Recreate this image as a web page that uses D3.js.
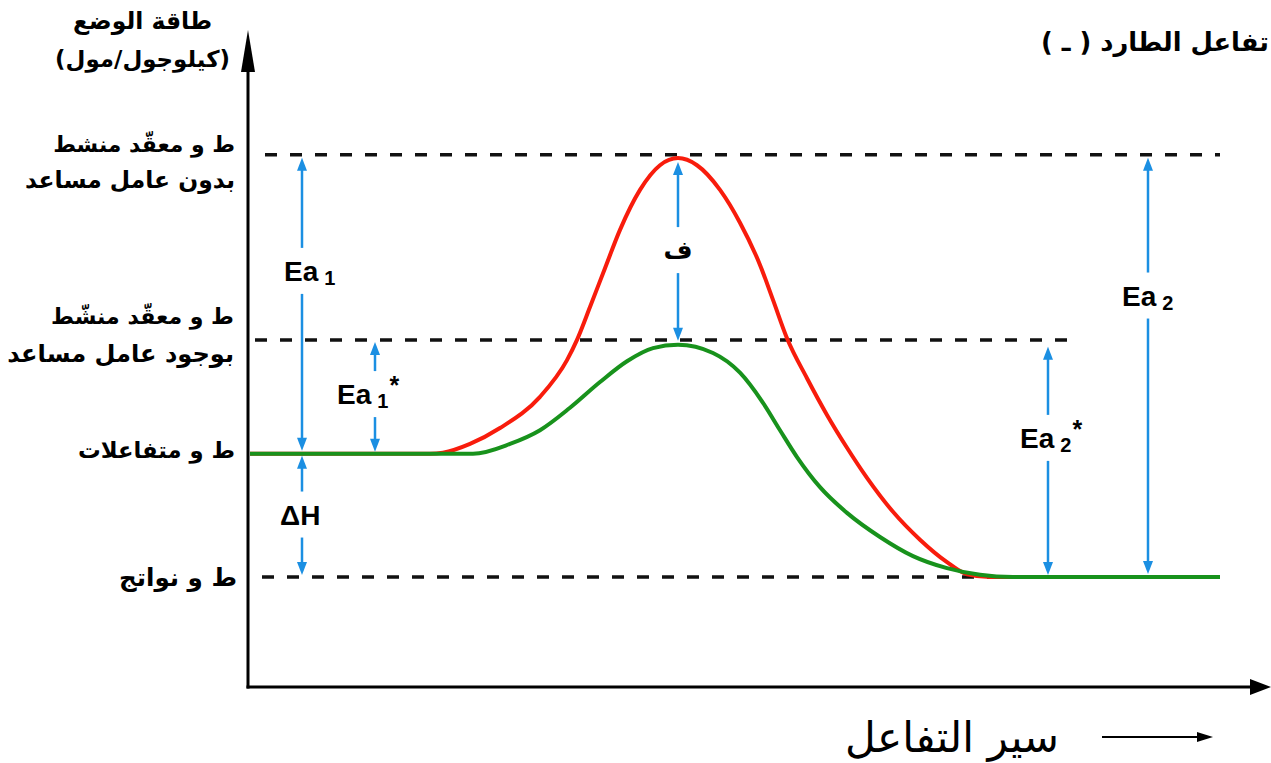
<!DOCTYPE html>
<html>
<head>
<meta charset="utf-8">
<script src="https://cdn.jsdelivr.net/npm/d3@7"></script>
<style>
  body { margin: 0; background: #fff; }
  svg { display: block; }
</style>
</head>
<body>
<svg id="chart" width="1271" height="763"></svg>
<script>
// reaction progress (0..100) and potential energy (arbitrary kJ/mol units)
const uncatX = [0.2, 18.2, 19.5, 22.2, 25.2, 29.2, 31.9, 32.9, 34.2, 35.7, 37.2, 39.2, 41.2, 43.0, 44.9, 47.2, 49.2, 51.2, 52.5, 53.9, 55.9, 57.9, 59.9, 61.9, 64.5, 67.2, 69.9, 71.9, 74.2, 97.2];
const uncatE = [42.6, 42.6, 42.8, 44.4, 47.3, 53.0, 59.7, 63.4, 69.4, 76.5, 83.5, 90.8, 95.3, 96.6, 95.3, 90.8, 84.8, 77.1, 70.7, 63.7, 56.4, 49.7, 43.7, 38.2, 32.0, 26.9, 22.8, 20.6, 20.1, 20.1];
const catX = [0.2, 22.5, 26.2, 29.2, 32.2, 35.2, 37.9, 40.5, 43.0, 46.5, 49.2, 51.5, 53.2, 54.9, 57.2, 59.9, 63.2, 66.5, 69.9, 73.2, 76.5, 97.2];
const catE = [42.6, 42.6, 44.4, 46.9, 51.0, 55.7, 59.5, 61.9, 62.5, 61.0, 57.4, 51.9, 46.9, 42.0, 36.5, 31.8, 27.4, 23.9, 21.7, 20.5, 20.1, 20.1];

// energy levels: products, reactants, activated complex with / without catalyst
const levelE = [20.1, 42.6, 63.4, 97.2];
const levelNames = [
  ['ط و نواتج'],
  ['ط و متفاعلات'],
  ['ط و معقّد منشّط', 'بوجود عامل مساعد'],
  ['ط و معقّد منشط', 'بدون عامل مساعد']
];

// energy gaps marked with blue arrows [low, high]
const gapNames = ['Ea1', 'Ea1*', 'ΔH', 'ف', 'Ea2*', 'Ea2'];
const gapLow = [42.6, 42.6, 20.1, 62.5, 20.1, 20.1];
const gapHigh = [97.2, 63.4, 42.6, 96.6, 62.5, 97.2];

const yTitle = ['طاقة الوضع', '(كيلوجول/مول)'];
const xTitle = 'سير التفاعل';
const chartTitle = 'تفاعل الطارد ( ـ )';

const svg = d3.select('#chart');
const x = d3.scaleLinear().domain([0, 100]).range([248, 1248]);
const y = d3.scaleLinear().domain([0, 120]).range([687, 30]);

const ARABIC = '"DejaVu Sans", sans-serif';
const LATIN = '"Liberation Sans", Arial, sans-serif';

// shrink/grow a text so it spans the wanted width
function fit(sel, w) {
  const len = sel.node().getComputedTextLength();
  const fs = parseFloat(sel.attr('font-size'));
  sel.attr('font-size', (fs * w / len).toFixed(2));
}

// dashed energy levels
const dashSpan = [[1.4, 76.2], [0, 0], [0.7, 82.7], [1.7, 97.2]];
levelE.forEach((e, i) => {
  if (i === 1) return; // reactants level is the flat curve itself
  svg.append('line')
    .attr('x1', x(dashSpan[i][0])).attr('x2', x(dashSpan[i][1]))
    .attr('y1', y(e)).attr('y2', y(e))
    .attr('stroke', '#111').attr('stroke-width', 3.5)
    .attr('stroke-dasharray', '12,13');
});

// curves
const line = d3.line()
  .x(d => x(d[0]))
  .y(d => y(d[1]))
  .curve(d3.curveMonotoneX);

svg.append('path')
  .datum(d3.zip(uncatX, uncatE))
  .attr('d', line)
  .attr('fill', 'none')
  .attr('stroke', '#f81c0c')
  .attr('stroke-width', 4);

svg.append('path')
  .datum(d3.zip(catX, catE))
  .attr('d', line)
  .attr('fill', 'none')
  .attr('stroke', '#18921c')
  .attr('stroke-width', 4);

// axes
const [x0, x1] = x.range();
const [y0, y1] = y.range();
svg.append('line')
  .attr('x1', x0).attr('x2', x0).attr('y1', y0 + 1.5).attr('y2', y1 + 30)
  .attr('stroke', '#000').attr('stroke-width', 3);
svg.append('path')
  .attr('d', `M${x0},${y1} L${x0 - 7},${y1 + 42} L${x0 + 7},${y1 + 42} Z`)
  .attr('fill', '#000');
svg.append('line')
  .attr('x1', x0 - 1.5).attr('x2', x1 + 5).attr('y1', y0).attr('y2', y0)
  .attr('stroke', '#000').attr('stroke-width', 3);
svg.append('path')
  .attr('d', `M${x1 + 23},${y0} L${x1 + 2},${y0 - 8} L${x1 + 2},${y0 + 8} Z`)
  .attr('fill', '#000');

// blue double arrows with a gap for the label
const BLUE = '#1b8fe2';
const arrowAt = [5.4, 12.7, 5.4, 43.0, 80.0, 90.0];
const labelAt = [76.0, 53.5, 31.5, 79.8, 45.5, 71.5];
const inset = [3, 2, 2, 4, 2, 3];
const half = 23;

function arrowHead(px, tipY, dir) {
  // dir -1: pointing up, +1: pointing down
  svg.append('path')
    .attr('d', `M${px},${tipY} L${px - 5},${tipY - dir * 13} L${px + 5},${tipY - dir * 13} Z`)
    .attr('fill', BLUE);
}

gapNames.forEach((name, i) => {
  const px = x(arrowAt[i]);
  const top = y(gapHigh[i]) + inset[i];
  const bot = y(gapLow[i]) - inset[i];
  const mid = y(labelAt[i]);
  svg.append('line')
    .attr('x1', px).attr('x2', px).attr('y1', top + 10).attr('y2', mid - half)
    .attr('stroke', BLUE).attr('stroke-width', 2.5);
  svg.append('line')
    .attr('x1', px).attr('x2', px).attr('y1', mid + half).attr('y2', bot - 10)
    .attr('stroke', BLUE).attr('stroke-width', 2.5);
  arrowHead(px, top, -1);
  arrowHead(px, bot, 1);
});

// labels on the arrows
const labelDx = [-18, -38, -22, 0, -28, -26];
gapNames.forEach((name, i) => {
  const px = x(arrowAt[i]);
  const base = y(labelAt[i]) + 10;
  if (name === 'ف') {
    svg.append('text')
      .attr('x', px).attr('y', base - 1)
      .attr('text-anchor', 'middle')
      .attr('font-family', ARABIC).attr('font-weight', 'bold').attr('font-size', 25)
      .text(name);
    return;
  }
  const t = svg.append('text')
    .attr('x', px + labelDx[i]).attr('y', base)
    .attr('font-family', LATIN).attr('font-weight', 'bold').attr('font-size', 28)
    .attr('fill', '#000');
  if (name === 'ΔH') { t.text(name); return; }
  t.append('tspan').text('Ea');
  t.append('tspan').attr('dx', 6).attr('dy', 4).attr('font-size', 20).text(name[2]);
  if (name.endsWith('*')) {
    t.append('tspan').attr('dx', 1).attr('dy', -14).attr('font-size', 25).text('*');
  }
});

// level names on the left (right aligned next to the axis)
const nameRight = [237, 235, 234, 235];
const nameBase = [[586], [458], [324, 362], [152, 188]];
const nameWidth = [[118], [157], [183, 227], [182, 210]];
levelNames.forEach((lines, i) => {
  lines.forEach((s, j) => {
    const t = svg.append('text')
      .attr('x', nameRight[i]).attr('y', nameBase[i][j])
      .attr('text-anchor', 'end')
      .attr('font-family', ARABIC).attr('font-weight', 'bold').attr('font-size', 19)
      .text(s);
    fit(t, nameWidth[i][j]);
  });
});

// y title
const yTitleBase = [29, 67];
const yTitleRight = [212, 230];
const yTitleWidth = [139, 175];
yTitle.forEach((s, i) => {
  const t = svg.append('text')
    .attr('x', yTitleRight[i]).attr('y', yTitleBase[i])
    .attr('text-anchor', 'end')
    .attr('font-family', ARABIC).attr('font-weight', 'bold').attr('font-size', 19)
    .text(s);
  fit(t, yTitleWidth[i]);
});

// chart title, top right
const title = svg.append('text')
  .attr('x', 1269).attr('y', 51)
  .attr('direction', 'rtl').attr('text-anchor', 'start')
  .attr('font-family', ARABIC).attr('font-weight', 'bold').attr('font-size', 24)
  .text(chartTitle);
fit(title, 228);

// x title with its arrow
const xt = svg.append('text')
  .attr('x', 952).attr('y', 752)
  .attr('text-anchor', 'middle')
  .attr('font-family', ARABIC).attr('font-size', 32)
  .text(xTitle);
fit(xt, 214);

svg.append('line')
  .attr('x1', 1102).attr('x2', 1200).attr('y1', 737).attr('y2', 737)
  .attr('stroke', '#000').attr('stroke-width', 2.2);
svg.append('path')
  .attr('d', 'M1213,737 L1197,732 L1197,742 Z')
  .attr('fill', '#000');
</script>
</body>
</html>
